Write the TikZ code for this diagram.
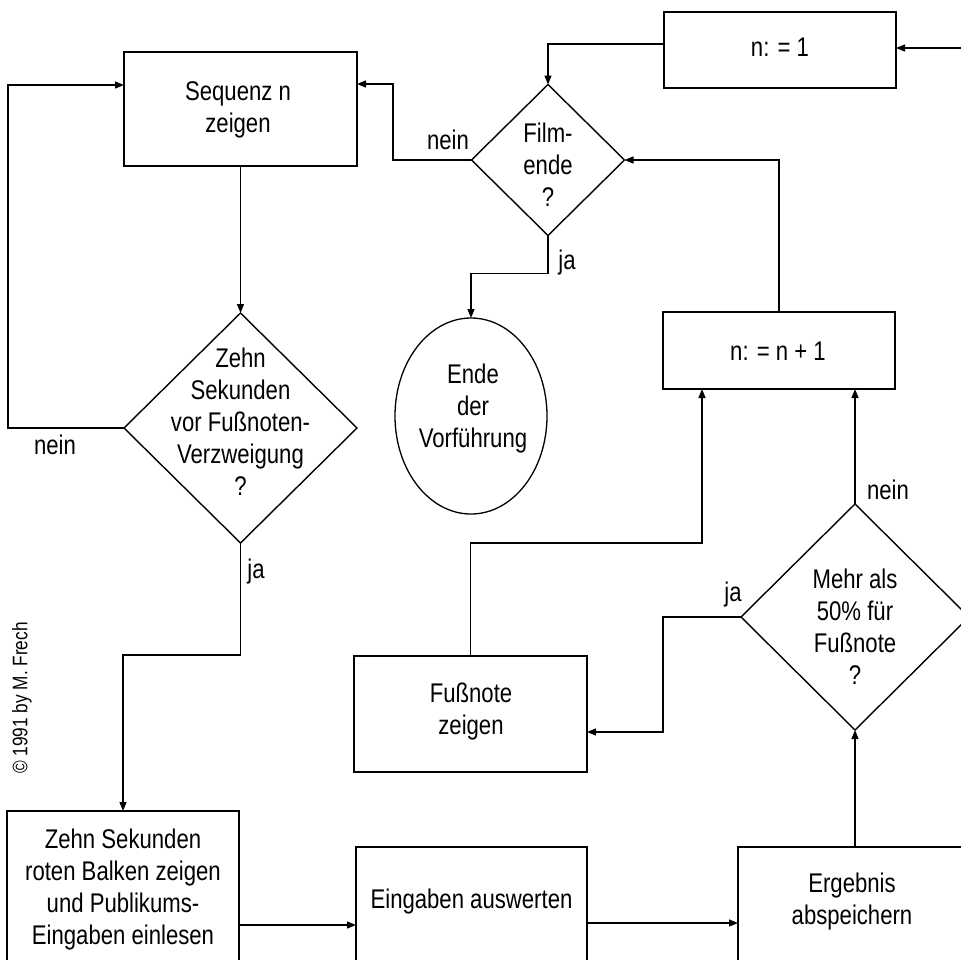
\documentclass[tikz,border=0pt]{standalone}
\usepackage{fontspec}
\setmainfont{Liberation Sans}[FakeStretch=0.82]
\usetikzlibrary{shapes.geometric,arrows.meta}
\tikzset{
  box/.style={draw, line width=1.6pt, rectangle, inner sep=0pt, outer sep=0pt},
  dia/.style={draw, line width=1.4pt, diamond, inner sep=0pt, outer sep=0pt},
  oval/.style={draw, line width=1.3pt, ellipse, inner sep=0pt, outer sep=0pt},
  txt/.style={align=center, inner sep=0pt, font=\fontsize{27}{32}\selectfont},
  lbl/.style={inner sep=0pt, font=\fontsize{27}{30}\selectfont},
  arr/.style={line width=1.3pt, -{Triangle[length=9pt,width=7pt]}},
  ln/.style={line width=1.3pt}
}
\begin{document}
\begin{tikzpicture}[x=1pt,y=-1pt]
\useasboundingbox (0,0) rectangle (961,959);
\fill[white] (0,0) rectangle (961,959);
\clip (0,0) rectangle (961,959);

% shapes
\node[box, minimum width=233pt, minimum height=114pt] (seq) at (240.5,109) {};
\node[dia, minimum width=233pt, minimum height=230pt] (zd) at (240.5,428) {};
\node[box, minimum width=232pt, minimum height=189pt] (zbox) at (123,905.5) {};
\node[box, minimum width=231pt, minimum height=153pt] (ein) at (471.5,923.5) {};
\node[box, minimum width=230pt, minimum height=153pt] (erg) at (853,923.5) {};
\node[dia, minimum width=228pt, minimum height=226pt] (mehr) at (855,617) {};
\node[box, minimum width=233pt, minimum height=116pt] (fuss) at (470.5,714) {};
\node[box, minimum width=232pt, minimum height=77pt] (nn1) at (779,350.5) {};
\node[dia, minimum width=153pt, minimum height=151pt] (film) at (548,160) {};
\node[box, minimum width=232pt, minimum height=76pt] (n1) at (780,50) {};
\node[oval, minimum width=152pt, minimum height=196pt] (ende) at (471,416) {};

% texts
\node[txt] (tseq) at (238,110) {Sequenz n\\zeigen};
\node[txt] (tzd) at (240.5,422) {Zehn\\Sekunden\\vor Fußnoten-\\Verzweigung\\?};
\node[txt] (tzbox) at (123,890) {Zehn Sekunden\\roten Balken zeigen\\und Publikums-\\Eingaben einlesen};
\node[txt] (tein) at (471.5,902) {Eingaben auswerten};
\node[txt] (terg) at (852,902) {Ergebnis\\abspeichern};
\node[txt] (tmehr) at (855,626.5) {Mehr als\\50\% für\\Fußnote\\?};
\node[txt] (tfuss) at (471,711.5) {Fußnote\\zeigen};
\node[txt] (tnn1) at (778,351) {n: = n + 1};
\node[txt] (tfilm) at (548,165) {Film-\\ende\\?};
\node[txt] (tn1) at (780,47) {n: = 1};
\node[txt] (tende) at (473,409) {Ende\\der\\Vorführung};

% labels
\node[lbl] (l1) at (55,445) {nein};
\node[lbl] (l2) at (256,572) {ja};
\node[lbl] (l3) at (448,140) {nein};
\node[lbl] (l4) at (567,263) {ja};
\node[lbl] (l5) at (733,595) {ja};
\node[lbl] (l6) at (888,490) {nein};
\node[font=\fontsize{21}{23}\selectfont, rotate=90, inner sep=0pt] (copy) at (22,698) {© 1991 by M. Frech};

% connectors
\coordinate (rin) at (966,48);
\draw[arr] (seq.south) -- (zd.north);
\draw[arr] (zd.west) -| (8,85) -- (seq.west |- 0,85);
\draw[arr] (zd.south) -- ++(0,112) -| (zbox.north);
\draw[arr] (zbox.east |- 0,925) -- (ein.west |- 0,925);
\draw[arr] (ein.east |- 0,923) -- (erg.west |- 0,923);
\draw[arr] (erg.north -| mehr.south) -- (mehr.south);
\draw[arr] (mehr.north) -- (nn1.south -| mehr.north);
\draw[arr] (mehr.west) -| (663,732) -- (fuss.east |- 0,732);
\draw[arr] (fuss.north) -- (470.5,543) -- (702,543) -- (nn1.south -| 702,0);
\draw[arr] (nn1.north) |- (film.east);
\draw[arr] (n1.west |- 0,44) -| (film.north);
\draw[arr] (rin) -- (n1.east |- rin);
\draw[arr] (film.west) -| (393,84) -- (seq.east |- 0,84);
\draw[arr] (film.south) -- ++(0,38) -| (ende.north);
\end{tikzpicture}
\end{document}
